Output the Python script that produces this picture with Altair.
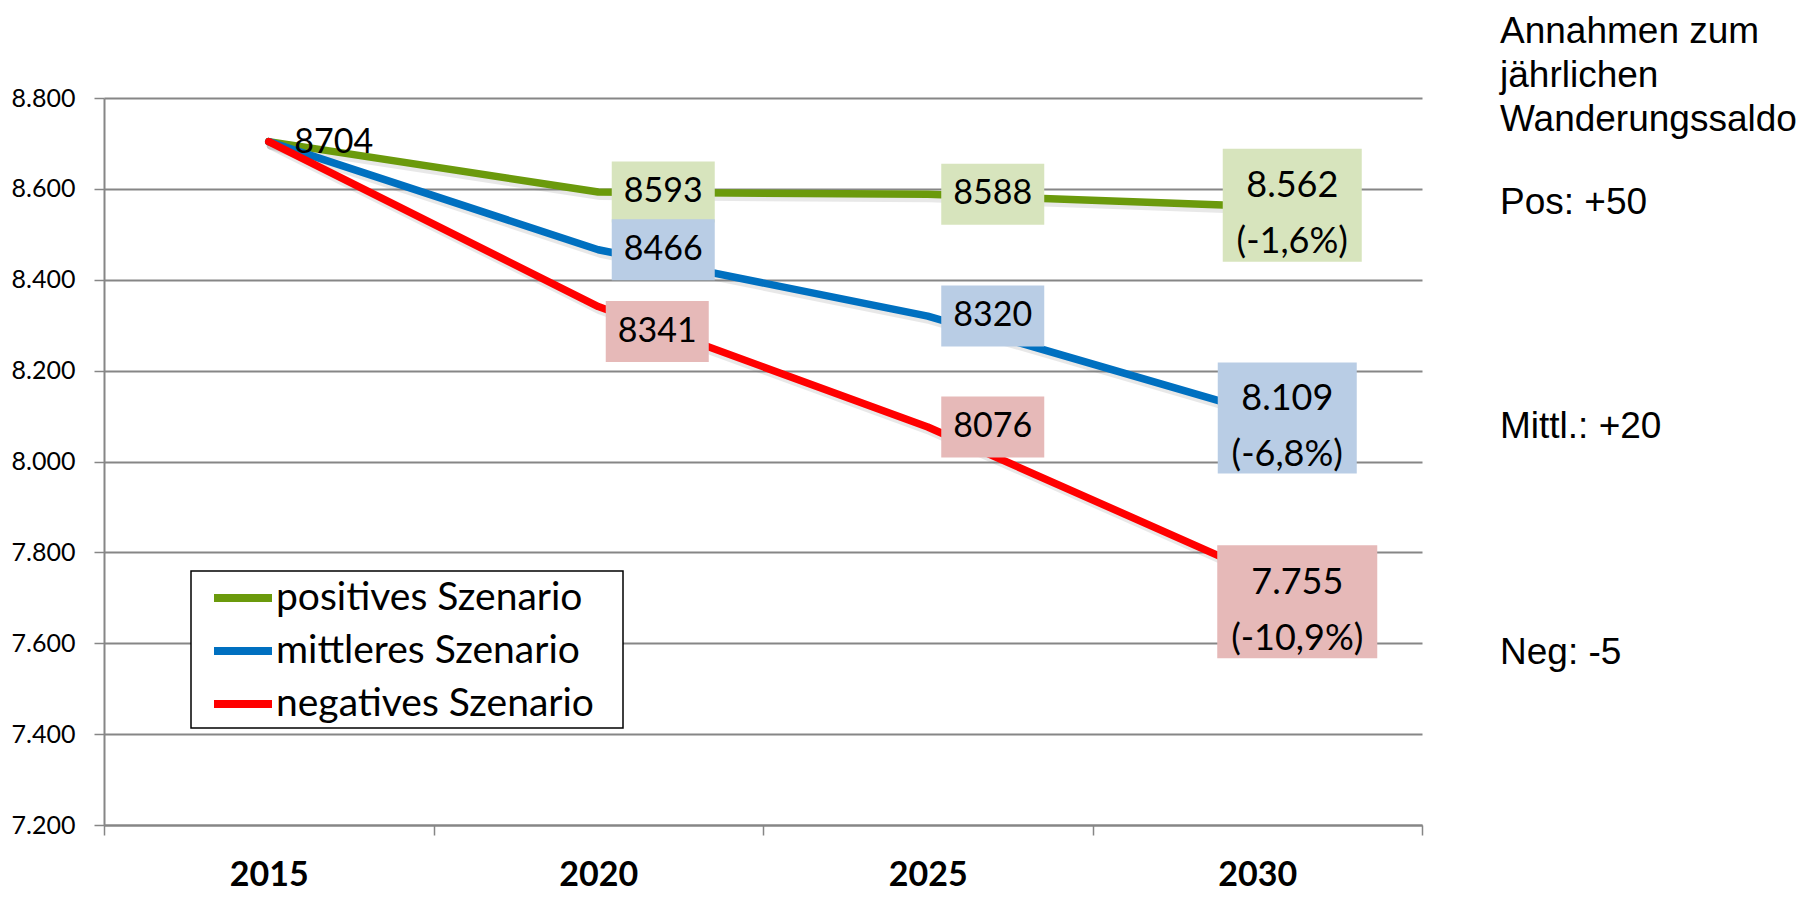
import altair as alt
import pandas as pd

# ---------------- data ----------------
YEARS = ["2015", "2020", "2025", "2030"]
SCENARIOS = ["positives Szenario", "mittleres Szenario", "negatives Szenario"]
POSITIVE = [8704, 8593, 8588, 8562]
MITTLERES = [8704, 8466, 8320, 8109]
NEGATIVE = [8704, 8341, 8076, 7755]
POS_LABELS = ["8704", "8593", "8588", "8.562\n(-1,6%)"]
MID_LABELS = ["", "8466", "8320", "8.109\n(-6,8%)"]
NEG_LABELS = ["", "8341", "8076", "7.755\n(-10,9%)"]
Y_TICKS = [7200, 7400, 7600, 7800, 8000, 8200, 8400, 8600, 8800]
NOTE_HEAD = "Annahmen zum\njährlichen\nWanderungssaldo"
NOTE_POS = "Pos: +50"
NOTE_MID = "Mittl.: +20"
NOTE_NEG = "Neg: -5"

# ---------------- styles ----------------
LINE_COLORS = ["#6B9A0C", "#0070C0", "#FF0000"]
BOX_COLORS = ["#D7E4BD", "#B9CDE5", "#E6B9B8"]
GRID = "#868686"
FONT = "Lato"

rows = []
for si, (name, vals, labs) in enumerate(zip(SCENARIOS, [POSITIVE, MITTLERES, NEGATIVE],
                                            [POS_LABELS, MID_LABELS, NEG_LABELS])):
    for yi, (yr, v, lab) in enumerate(zip(YEARS, vals, labs)):
        rows.append({"year": yr, "yi": yi, "scenario": name, "si": si, "value": v, "label": lab})
df = pd.DataFrame(rows)

base = alt.Chart(df)

X = alt.X(
    "year:O",
    scale=alt.Scale(type="band", domain=YEARS, paddingInner=0, paddingOuter=0),
    axis=alt.Axis(
        title=None, labelAngle=0, labelFont=FONT, labelFontWeight="bold", labelFontSize=34,
        labelColor="black", tickBand="extent", tickSize=10, tickColor=GRID, tickWidth=1.5,
        domainColor=GRID, domainWidth=2, labelPadding=23, grid=False,
    ),
)
Y = alt.Y(
    "value:Q",
    scale=alt.Scale(domain=[7200, 8800], nice=False, zero=False),
    axis=alt.Axis(
        title=None, values=Y_TICKS, labelExpr="replace(format(datum.value, ','), ',', '.')",
        labelFont=FONT, labelFontSize=25, labelColor="black", grid=True, gridColor=GRID,
        gridWidth=2, tickColor=GRID, tickWidth=1.5, tickSize=10, domainColor=GRID, domainWidth=2,
        labelPadding=19,
    ),
)
COLOR = alt.Color(
    "scenario:N",
    scale=alt.Scale(domain=SCENARIOS, range=LINE_COLORS),
    title=None,
    legend=alt.Legend(
        orient="none", legendX=90, legendY=465, direction="vertical",
        padding=2, symbolType="stroke",
        symbolStrokeWidth=8, symbolSize=3364, symbolOffset=14, labelFont=FONT,
        labelFontSize=39, labelColor="black", labelOffset=0, rowPadding=0,
        labelLimit=700,
    ),
)
FILL = alt.Fill("scenario:N", scale=alt.Scale(domain=SCENARIOS, range=BOX_COLORS), legend=None)

layers = []
# soft shadows under the lines
for si in range(3):
    layers.append(
        base.transform_filter(f"datum.si == {si}")
        .mark_line(strokeWidth=8, strokeCap="round", strokeJoin="round", opacity=0.18,
                   xOffset=2, yOffset=4)
        .encode(x=X, y=Y, stroke=alt.value("#808080"))
    )
# lines: green, then blue, then red on top
for si in range(3):
    layers.append(
        base.transform_filter(f"datum.si == {si}")
        .mark_line(strokeWidth=7.5, strokeCap="round", strokeJoin="round")
        .encode(x=X, y=Y, color=COLOR)
    )


def box(cond, dx, dy, w, h):
    half = round(h / w, 4)
    path = f"M-1,{-half}L1,{-half}L1,{half}L-1,{half}Z"
    return (
        base.transform_filter(cond)
        .mark_point(shape=path, size=w * w, filled=True, opacity=1, strokeWidth=0,
                    xOffset=dx, yOffset=dy)
        .encode(x=X, y=Y, fill=FILL)
    )


LINE_H = 56


def text(cond, dx, dy, size, lines=1):
    shift = 0 if lines == 1 else 9 - (lines - 1) * LINE_H / 2
    return (
        base.transform_filter(cond)
        .mark_text(font=FONT, fontSize=size, color="black", dx=dx, dy=dy + shift,
                   lineBreak="\n", lineHeight=LINE_H, baseline="middle", align="center")
        .encode(x=X, y=Y, text="label:N")
    )


groups = [
    ("(datum.yi == 1 || datum.yi == 2) && !(datum.yi == 1 && datum.si == 2)", 65, 0, 103, 61, 1),
    ("datum.yi == 1 && datum.si == 2", 59, 25, 103, 61, 1),
    ("datum.yi == 3 && datum.si == 0", 35, -1, 139, 113, 2),
    ("datum.yi == 3 && datum.si == 1", 30, 6, 139, 111, 2),
    ("datum.yi == 3 && datum.si == 2", 40, 29, 160, 113, 2),
]
for cond, dx, dy, w, h, n in groups:
    layers.append(box(cond, dx, dy, w, h))
for cond, dx, dy, w, h, n in groups:
    layers.append(text(cond, dx, dy, 34 if n == 1 else 36, n))
layers.append(text("datum.yi == 0 && datum.si == 0", 65, 1, 34))

# legend frame (white box with black border, drawn under the legend entries)
frame_df = pd.DataFrame({"k": [0]})
layers.append(
    alt.Chart(frame_df).mark_rect(fill="white", stroke="black", strokeWidth=1.5)
    .encode(x=alt.value(87), x2=alt.value(519), y=alt.value(473), y2=alt.value(630))
)

# annotation on the right
note_df = pd.DataFrame({"t": [NOTE_HEAD, NOTE_POS, NOTE_MID, NOTE_NEG]})
note_y = [-66, 105, 329, 555]
for i, yy in enumerate(note_y):
    layers.append(
        alt.Chart(note_df).transform_filter(f"datum.t == {note_df.t[i]!r}".replace("\n", "\\n"))
        .mark_text(font="Liberation Sans", fontSize=37, color="black", align="left",
                   baseline="middle", lineBreak="\n", lineHeight=44)
        .encode(x=alt.value(1396), y=alt.value(yy), text="t:N")
    )

chart = (
    alt.layer(*layers)
    .properties(
        width=1318, height=727,
        autosize=alt.AutoSizeParams(type="none"),
        padding={"left": 96, "top": 90, "right": 389, "bottom": 68},
    )
    .configure_view(stroke=None)
)

chart.save("out.html", embed_options={"renderer": "svg", "actions": False})
